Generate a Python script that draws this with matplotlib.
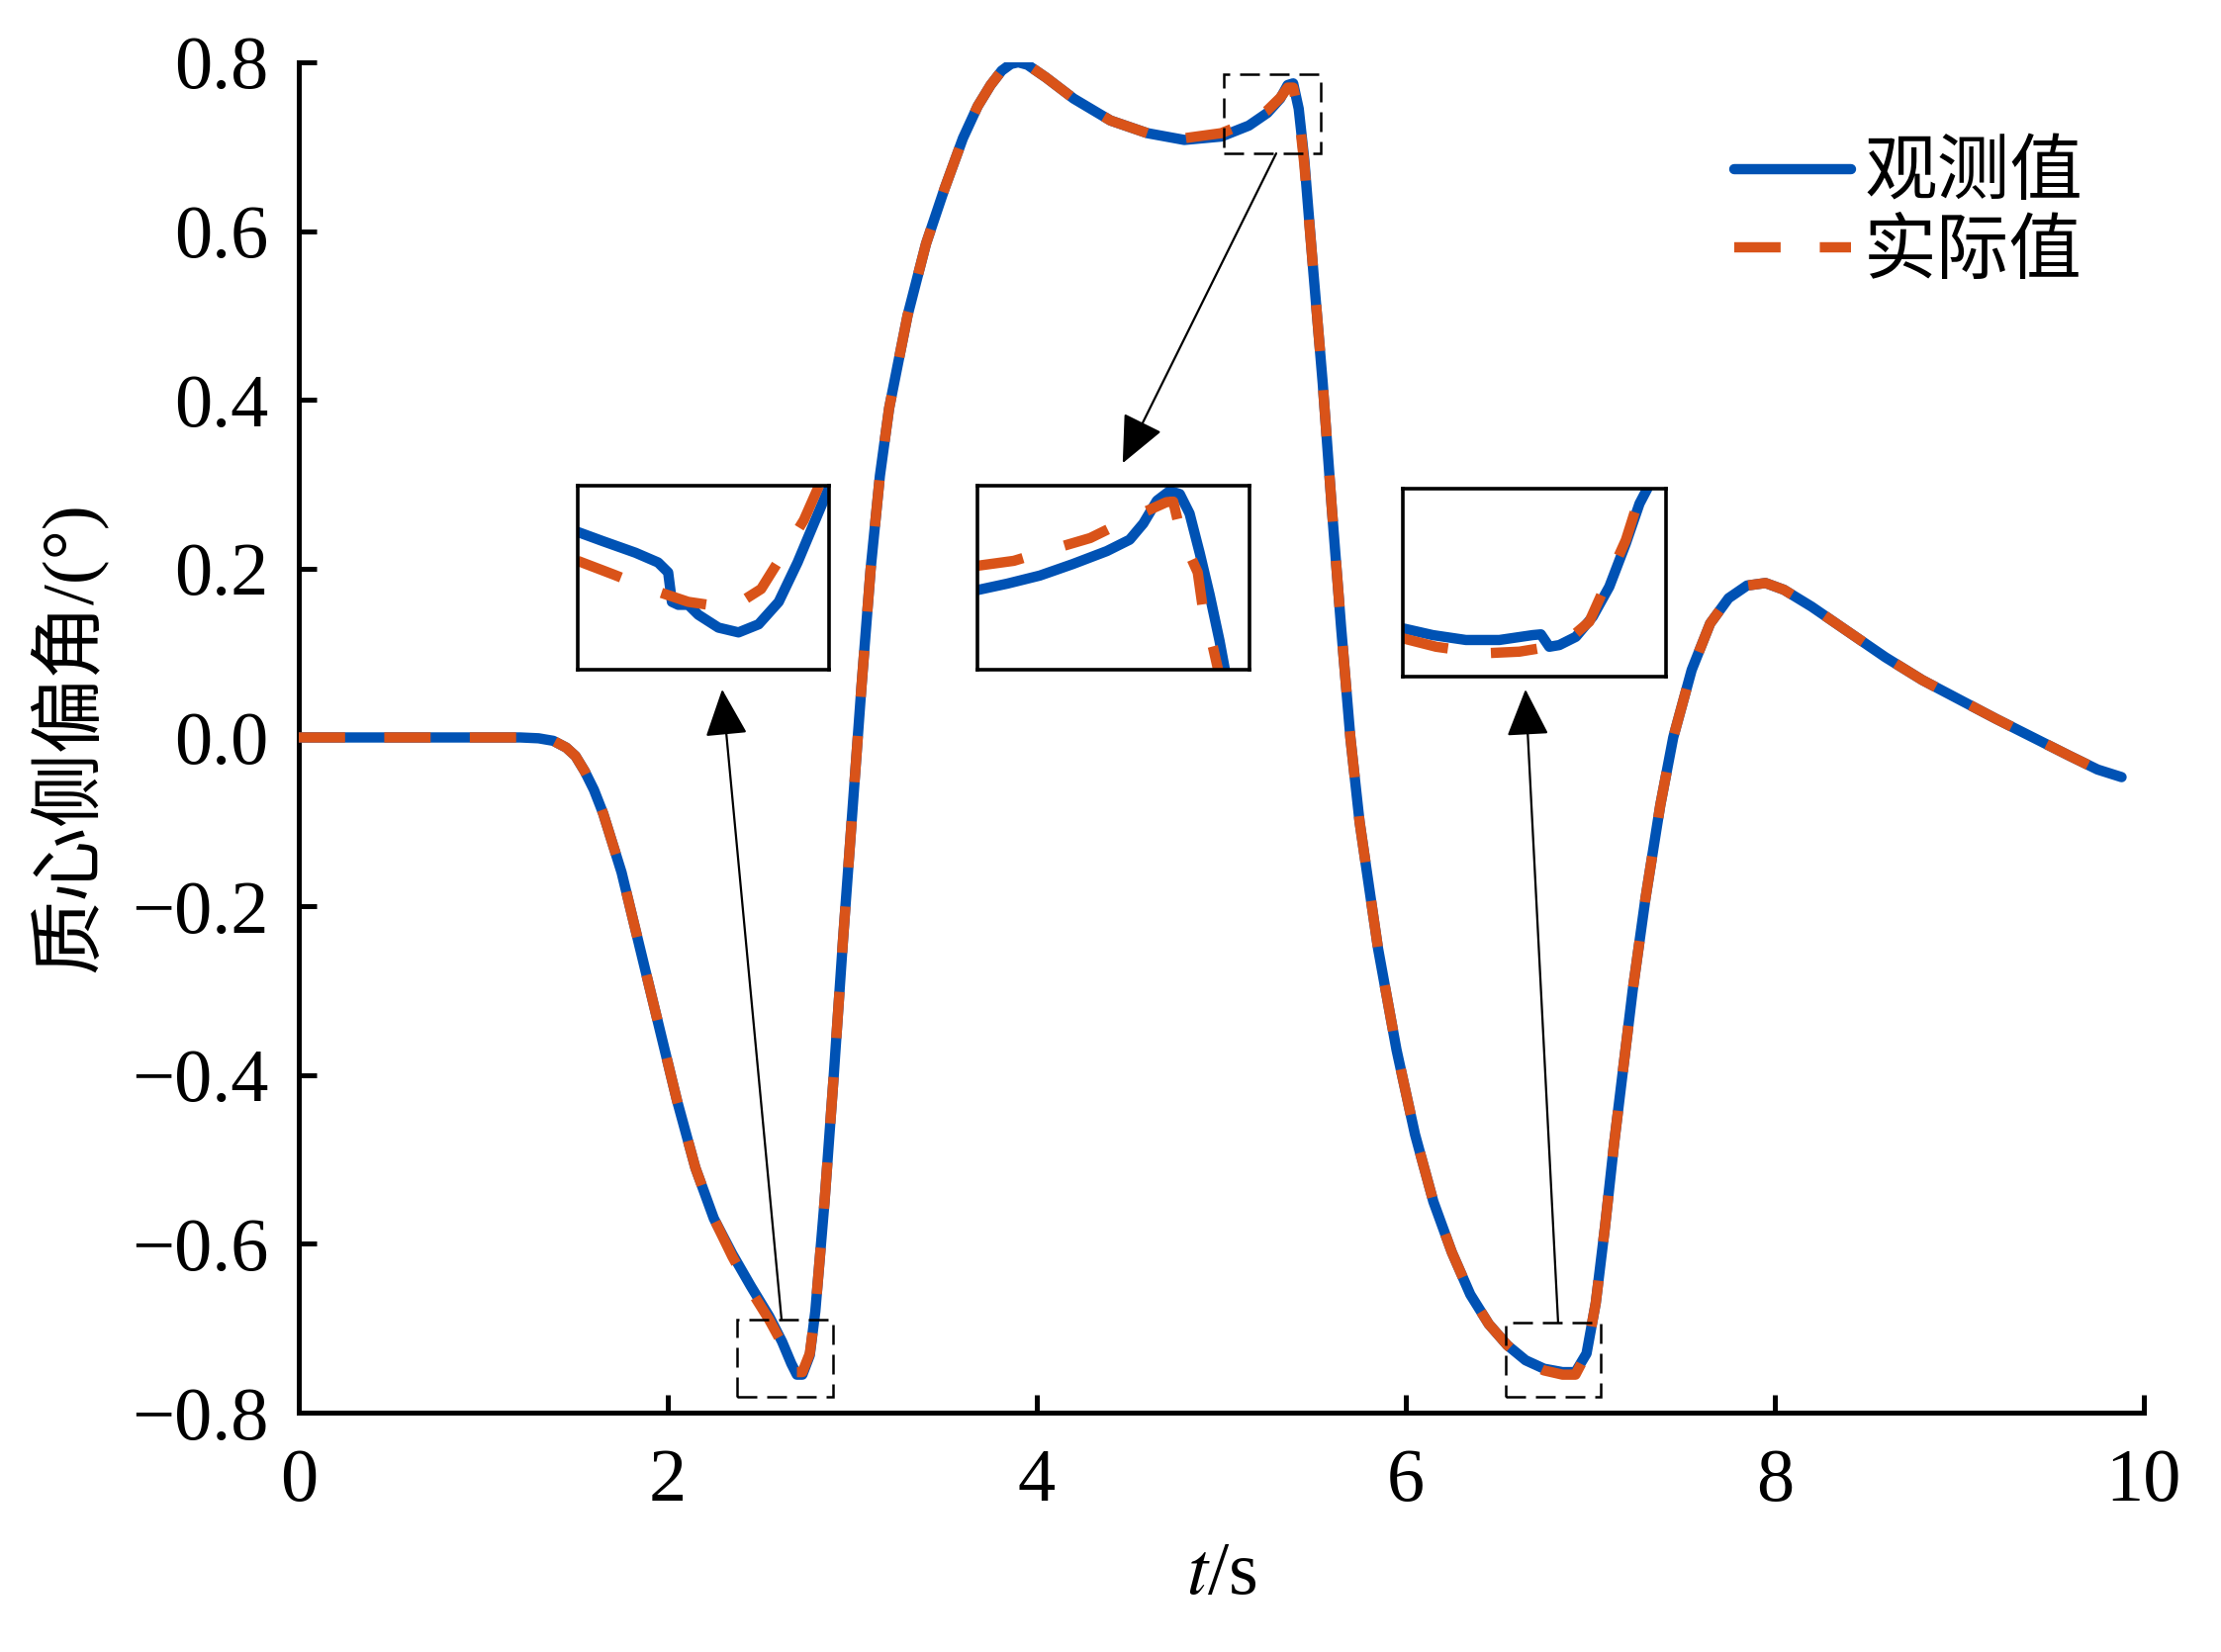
import matplotlib
matplotlib.use("Agg")
import matplotlib.pyplot as plt
from matplotlib.patches import Rectangle

# ---------------- data ----------------
t = [0.0, 0.4, 0.8, 1.2, 1.30, 1.38, 1.45, 1.50, 1.55, 1.60, 1.65, 1.75, 1.85, 1.95, 2.05,
     2.15, 2.25, 2.35, 2.45, 2.55, 2.62, 2.67, 2.70, 2.73, 2.77, 2.80, 2.85, 2.90, 2.95,
     3.00, 3.05, 3.10, 3.15, 3.20, 3.30, 3.40, 3.50, 3.60, 3.68, 3.75, 3.81, 3.86, 3.90,
     3.95, 4.05, 4.20, 4.40, 4.60, 4.80, 5.00, 5.15, 5.25, 5.32, 5.36, 5.39, 5.42, 5.45,
     5.50, 5.55, 5.60, 5.65, 5.70, 5.75, 5.85, 5.95, 6.05, 6.15, 6.25, 6.35, 6.45, 6.55,
     6.65, 6.75, 6.85, 6.92, 6.98, 7.03, 7.08, 7.13, 7.18, 7.23, 7.30, 7.38, 7.45, 7.55,
     7.65, 7.75, 7.85, 7.95, 8.05, 8.20, 8.40, 8.60, 8.80, 9.00, 9.20, 9.40, 9.60, 9.75,
     9.88]
beta_actual = [0.0, 0.0, 0.0, 0.0, -0.001, -0.004, -0.012, -0.022, -0.04, -0.062, -0.09,
               -0.16, -0.25, -0.34, -0.43, -0.51, -0.57, -0.615, -0.655, -0.69, -0.718,
               -0.74, -0.752, -0.752, -0.73, -0.68, -0.55, -0.40, -0.24, -0.09, 0.06, 0.20,
               0.31, 0.39, 0.50, 0.585, 0.65, 0.71, 0.748, 0.773, 0.790, 0.798, 0.800,
               0.797, 0.782, 0.757, 0.731, 0.716, 0.710, 0.716, 0.729, 0.743, 0.758, 0.770,
               0.770, 0.740, 0.68, 0.55, 0.42, 0.27, 0.13, 0.0, -0.10, -0.25, -0.37, -0.47,
               -0.55, -0.61, -0.66, -0.695, -0.72, -0.74, -0.75, -0.755, -0.755, -0.73,
               -0.67, -0.58, -0.48, -0.39, -0.30, -0.19, -0.08, 0.0, 0.08, 0.135, 0.165,
               0.18, 0.183, 0.175, 0.155, 0.125, 0.095, 0.068, 0.045, 0.022, 0.0, -0.022,
               -0.038, -0.047]
beta_observed = [0.0, 0.0, 0.0, 0.0, -0.001, -0.004, -0.012, -0.022, -0.04, -0.062, -0.09,
                 -0.16, -0.25, -0.34, -0.43, -0.51, -0.57, -0.612, -0.650, -0.686, -0.716,
                 -0.742, -0.755, -0.755, -0.732, -0.68, -0.55, -0.40, -0.24, -0.09, 0.06,
                 0.20, 0.31, 0.39, 0.50, 0.585, 0.65, 0.71, 0.748, 0.773, 0.790, 0.798,
                 0.800, 0.797, 0.782, 0.757, 0.731, 0.716, 0.708, 0.712, 0.725, 0.740,
                 0.757, 0.773, 0.775, 0.745, 0.685, 0.55, 0.42, 0.27, 0.13, 0.0, -0.10,
                 -0.25, -0.37, -0.47, -0.55, -0.61, -0.66, -0.695, -0.72, -0.738, -0.748,
                 -0.752, -0.752, -0.73, -0.67, -0.58, -0.48, -0.39, -0.30, -0.19, -0.08,
                 0.0, 0.08, 0.135, 0.165, 0.18, 0.183, 0.175, 0.155, 0.125, 0.095, 0.068,
                 0.045, 0.022, 0.0, -0.022, -0.038, -0.047]

# zoom details (fraction of each zoom window)
zoom1_x_obs = [0.0, 0.10, 0.23, 0.32, 0.36, 0.375, 0.40, 0.44, 0.48, 0.56, 0.64, 0.72, 0.80, 0.875, 0.94, 1.0]
zoom1_obs = [0.75, 0.70, 0.637, 0.584, 0.53, 0.37, 0.354, 0.354, 0.30, 0.23, 0.204, 0.248, 0.37, 0.584, 0.796, 0.99]
zoom1_x_act = [0.0, 0.14, 0.30, 0.44, 0.61, 0.73, 0.82, 0.90, 0.96]
zoom1_act = [0.593, 0.52, 0.434, 0.37, 0.336, 0.44, 0.637, 0.814, 1.0]

zoom2_x_obs = [0.0, 0.11, 0.23, 0.35, 0.476, 0.56, 0.59, 0.61, 0.66, 0.707, 0.744, 0.78, 0.817, 0.854, 0.89, 0.91]
zoom2_obs = [0.434, 0.469, 0.513, 0.575, 0.646, 0.708, 0.761, 0.796, 0.92, 0.973, 0.956, 0.85, 0.637, 0.407, 0.159, 0.0]
zoom2_x_act = [0.0, 0.134, 0.293, 0.415, 0.561, 0.695, 0.72, 0.75, 0.81, 0.83, 0.866, 0.885]
zoom2_act = [0.566, 0.593, 0.664, 0.717, 0.823, 0.912, 0.915, 0.726, 0.53, 0.32, 0.124, 0.0]

zoom3_x_obs = [0.0, 0.114, 0.24, 0.367, 0.494, 0.525, 0.557, 0.595, 0.658, 0.722, 0.785, 0.848, 0.90, 0.93]
zoom3_obs = [0.257, 0.221, 0.195, 0.195, 0.221, 0.225, 0.159, 0.168, 0.212, 0.319, 0.478, 0.708, 0.92, 1.0]
zoom3_x_act = [0.0, 0.127, 0.304, 0.443, 0.557, 0.62, 0.709, 0.785, 0.848, 0.91]
zoom3_act = [0.204, 0.159, 0.124, 0.133, 0.159, 0.186, 0.292, 0.53, 0.726, 1.0]

x_ticks = [0, 2, 4, 6, 8, 10]
x_labels = ["0", "2", "4", "6", "8", "10"]
y_ticks = [-0.8, -0.6, -0.4, -0.2, 0.0, 0.2, 0.4, 0.6, 0.8]
y_labels = ["\u22120.8", "\u22120.6", "\u22120.4", "\u22120.2", "0.0", "0.2", "0.4", "0.6", "0.8"]
legend_labels = ["观测值", "实际值"]

# zoom windows in data coordinates: (t0, t1, v0, v1)
zoom_windows = [(2.375, 2.895, -0.781, -0.690),
                (5.013, 5.539, 0.692, 0.786),
                (6.542, 7.056, -0.781, -0.693)]
inset_boxes = [(1.512, 2.874, 0.080, 0.298),
               (3.678, 5.153, 0.080, 0.298),
               (5.984, 7.410, 0.072, 0.295)]
arrows = [((2.617, -0.690), (2.295, 0.057)),
          ((5.298, 0.692), (4.466, 0.325)),
          ((6.826, -0.693), (6.649, 0.057))]

# ---------------- style ----------------
BLUE = "#0052B4"
ORANGE = "#D95319"
LW = 7.5
DASH = (0, (4.5, 3.8))
serif = ["Liberation Serif", "Noto Sans CJK SC"]
cjk = ["Noto Sans CJK SC", "Liberation Serif"]

fig = plt.figure(figsize=(22.45, 16.70), dpi=100)
ax = fig.add_axes([0.1345, 0.1449, 0.8307, 0.8174])

ax.plot(t, beta_observed, color=BLUE, lw=LW, solid_capstyle="round",
        solid_joinstyle="round", label=legend_labels[0], zorder=3)
ax.plot(t, beta_actual, color=ORANGE, lw=LW, linestyle=DASH, dash_joinstyle="round",
        label=legend_labels[1], zorder=4)

ax.set_xlim(0, 10)
ax.set_ylim(-0.8, 0.8)
ax.set_xticks(x_ticks)
ax.set_xticklabels(x_labels, fontfamily=serif, fontsize=55)
ax.set_yticks(y_ticks)
ax.set_yticklabels(y_labels, fontfamily=serif, fontsize=55)
ax.tick_params(direction="in", length=13, width=3.6, top=False, right=False)
ax.tick_params(axis="x", pad=26)
ax.tick_params(axis="y", pad=22)
for s in ["top", "right"]:
    ax.spines[s].set_visible(False)
for s in ["left", "bottom"]:
    ax.spines[s].set_linewidth(3.6)

ax.set_xlabel(r"$t$/s", fontsize=55, fontfamily=serif, labelpad=18)
ax.xaxis.label.set_math_fontfamily("stix")
ax.set_ylabel("质心侧偏角/(°)", fontsize=54, fontfamily=serif, labelpad=18)

leg = ax.legend(loc="upper right", bbox_to_anchor=(2105 / 2245, 1 - 138 / 1670),
                bbox_transform=fig.transFigure, frameon=False,
                handlelength=1.6, handletextpad=0.18, labelspacing=0.05,
                borderpad=0, borderaxespad=0, prop={"family": cjk, "size": 53})

# zoom rectangles
for (t0, t1, v0, v1) in zoom_windows:
    ax.add_patch(Rectangle((t0, v0), t1 - t0, v1 - v0, fill=False, ec="black",
                           lw=1.8, linestyle=(0, (8, 4)), zorder=5))

# arrows
for (tail, tip) in arrows:
    ax.annotate("", xy=tip, xytext=tail, xycoords="data", textcoords="data",
                arrowprops=dict(arrowstyle="-|>,head_length=1.0,head_width=0.45",
                                mutation_scale=30, lw=1.6, color="black",
                                shrinkA=0, shrinkB=0), zorder=6)

# insets
zooms = [(zoom1_x_obs, zoom1_obs, zoom1_x_act, zoom1_act),
         (zoom2_x_obs, zoom2_obs, zoom2_x_act, zoom2_act),
         (zoom3_x_obs, zoom3_obs, zoom3_x_act, zoom3_act)]
for (x0, x1, y0, y1), (xo, yo, xa, ya) in zip(inset_boxes, zooms):
    ia = ax.inset_axes([x0, y0, x1 - x0, y1 - y0], transform=ax.transData, zorder=7)
    ia.plot(xo, yo, color=BLUE, lw=LW, solid_capstyle="round", solid_joinstyle="round")
    ia.plot(xa, ya, color=ORANGE, lw=LW, linestyle=(0, (4.5, 4.2)))
    ia.set_xlim(0, 1)
    ia.set_ylim(0, 1)
    ia.set_xticks([])
    ia.set_yticks([])
    for s in ia.spines.values():
        s.set_linewidth(2.6)

fig.savefig("out.png", dpi=100, facecolor="white")
